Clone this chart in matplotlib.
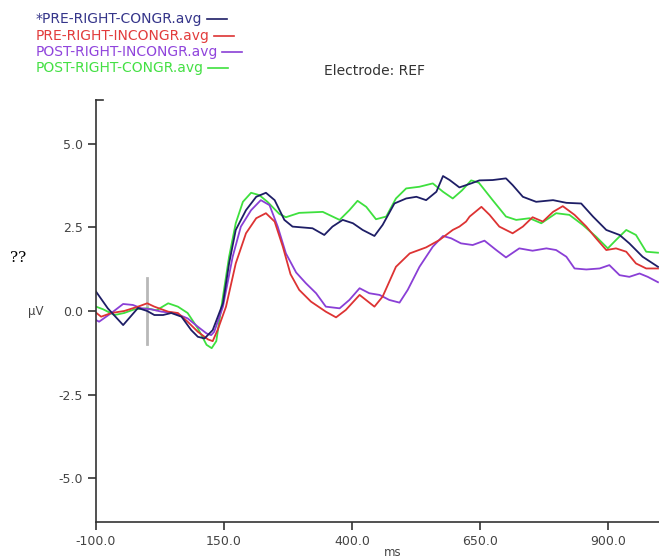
import matplotlib.pyplot as plt
from matplotlib.lines import Line2D

# ERP averages, electrode REF
names = ['*PRE-RIGHT-CONGR.avg', 'PRE-RIGHT-INCONGR.avg',
         'POST-RIGHT-INCONGR.avg', 'POST-RIGHT-CONGR.avg']
colors = ['#1e1e66', '#dd3333', '#8a3fd6', '#3ee03e']
text_colors = ['#35358a', '#e23c3c', '#9044dc', '#44e044']

pre_congr_t = [-100, -77, -47, -18, 0, 14, 31, 47, 67, 86, 99, 112, 128, 148, 160,
               173, 193, 213, 232, 249, 268, 284, 323, 346, 362, 382, 402, 421,
               444, 460, 483, 506, 526, 545, 565, 578, 591, 610, 633, 649, 675,
               701, 714, 734, 760, 793, 819, 848, 871, 897, 923, 942, 968, 998]
pre_congr_v = [0.58, 0.08, -0.42, 0.09, 0.0, -0.12, -0.12, -0.06, -0.17, -0.57,
               -0.77, -0.82, -0.57, 0.23, 1.42, 2.42, 3.01, 3.41, 3.53, 3.31,
               2.72, 2.52, 2.47, 2.27, 2.52, 2.72, 2.62, 2.42, 2.24, 2.57, 3.21,
               3.36, 3.41, 3.31, 3.56, 4.03, 3.91, 3.69, 3.81, 3.90, 3.91, 3.96,
               3.76, 3.41, 3.26, 3.31, 3.23, 3.21, 2.82, 2.42, 2.27, 2.02, 1.62,
               1.32]

pre_incongr_t = [-100, -90, -70, -45, -18, 0, 14, 41, 60, 79, 99, 119, 128, 138,
                 154, 173, 193, 213, 232, 249, 265, 280, 297, 320, 349, 369, 388,
                 415, 444, 460, 486, 513, 545, 571, 597, 610, 623, 630, 653, 669,
                 688, 714, 734, 753, 773, 793, 812, 835, 858, 877, 897, 916, 936,
                 955, 975, 998]
pre_incongr_v = [-0.05, -0.17, -0.06, 0.0, 0.13, 0.23, 0.13, -0.02, -0.06, -0.32,
                 -0.62, -0.85, -0.9, -0.55, 0.13, 1.42, 2.32, 2.77, 2.92, 2.67,
                 1.92, 1.1, 0.63, 0.28, -0.02, -0.19, 0.03, 0.48, 0.13, 0.43,
                 1.32, 1.72, 1.90, 2.12, 2.42, 2.52, 2.67, 2.82, 3.11, 2.87, 2.52,
                 2.32, 2.52, 2.80, 2.67, 2.96, 3.13, 2.87, 2.52, 2.17, 1.82, 1.87,
                 1.77, 1.42, 1.27, 1.27]

post_incongr_t = [-100, -94, -70, -47, -28, -11, 8, 28, 53, 79, 99, 116, 125, 131,
                  148, 167, 183, 203, 222, 239, 255, 271, 291, 310, 330, 349, 376,
                  395, 415, 434, 454, 473, 493, 509, 532, 558, 578, 594, 613, 636,
                  659, 682, 701, 727, 753, 780, 799, 819, 835, 858, 884, 903, 923,
                  942, 962, 978, 998]
post_incongr_v = [-0.27, -0.32, -0.06, 0.21, 0.18, 0.08, 0.05, -0.02, -0.06, -0.22,
                  -0.47, -0.67, -0.72, -0.62, 0.13, 1.62, 2.52, 3.01, 3.31, 3.16,
                  2.52, 1.72, 1.15, 0.83, 0.53, 0.13, 0.08, 0.33, 0.68, 0.53, 0.48,
                  0.33, 0.25, 0.63, 1.32, 1.92, 2.24, 2.17, 2.02, 1.97, 2.10, 1.82,
                  1.60, 1.87, 1.80, 1.87, 1.82, 1.62, 1.27, 1.24, 1.27, 1.37, 1.07,
                  1.02, 1.12, 1.02, 0.86]

post_congr_t = [-100, -86, -64, -45, -25, 0, 18, 41, 60, 79, 99, 116, 126, 135,
                148, 160, 173, 187, 203, 219, 235, 258, 271, 297, 343, 376, 395,
                411, 428, 447, 467, 486, 506, 532, 558, 578, 597, 615, 633, 648,
                675, 701, 721, 747, 770, 799, 825, 851, 877, 900, 916, 936, 955,
                975, 998]
post_congr_v = [0.13, 0.05, -0.12, -0.06, 0.05, 0.08, 0.02, 0.23, 0.13, -0.06,
                -0.52, -1.01, -1.11, -0.9, 0.43, 1.62, 2.62, 3.26, 3.53, 3.46,
                3.26, 2.9, 2.8, 2.93, 2.96, 2.72, 3.01, 3.29, 3.11, 2.74, 2.82,
                3.36, 3.66, 3.71, 3.81, 3.56, 3.36, 3.6, 3.9, 3.83, 3.31, 2.82,
                2.72, 2.77, 2.62, 2.92, 2.87, 2.57, 2.22, 1.87, 2.12, 2.42, 2.27,
                1.77, 1.74]

x_ticks = [-100, 150, 400, 650, 900]
y_ticks = [-5.0, -2.5, 0.0, 2.5, 5.0]

series_t = [pre_congr_t, pre_incongr_t, post_incongr_t, post_congr_t]
series_v = [pre_congr_v, pre_incongr_v, post_incongr_v, post_congr_v]

fig = plt.figure(figsize=(6.59, 5.59), dpi=100)
ax = fig.add_axes([0.1457, 0.0662, 0.8543, 0.7549])

# stimulus onset marker
ax.plot([0, 0], [-1.0, 1.0], color='#b8b8b8', lw=2, zorder=1)

# draw green first so navy sits on top like in the reference
for i in [3, 2, 1, 0]:
    ax.plot(series_t[i], series_v[i], color=colors[i], lw=1.3, zorder=2)

ax.set_xlim(-100, 1000)
ax.set_ylim(-6.3, 6.3)
ax.set_xticks(x_ticks)
ax.set_xticklabels(['%.1f' % t for t in x_ticks])
ax.set_yticks(y_ticks)
ax.set_yticklabels(['%.1f' % v for v in y_ticks])
ax.spines['top'].set_visible(False)
ax.spines['right'].set_visible(False)
for s in ['left', 'bottom']:
    ax.spines[s].set_color('#333333')
    ax.spines[s].set_linewidth(1.2)
ax.tick_params(direction='out', length=6, width=1.2, color='#333333',
               labelsize=9, labelcolor='#444444')
# small cap at the top of the y axis
ax.add_line(Line2D([0, 0.012], [1, 1], transform=ax.transAxes,
                   color='#333333', lw=1.2, clip_on=False))

fig.text(393 / 659, 1 - 552 / 559, 'ms', fontsize=8.5, color='#444444',
         ha='center', va='center')
fig.text(36 / 659, 1 - 311 / 559, 'µV', fontsize=8.5, color='#444444',
         ha='center', va='center')
fig.text(18 / 659, 1 - 258 / 559, '??', fontsize=11, family='DejaVu Serif',
         ha='center', va='center')
fig.text(374 / 659, 1 - 71 / 559, 'Electrode: REF', fontsize=10,
         color='#333333', ha='center', va='center')

# legend: coloured names with a short line after each
leg_y = [19, 36, 52, 68]
fig.canvas.draw()
r = fig.canvas.get_renderer()
for name, c, tc, y in zip(names, colors, text_colors, leg_y):
    txt = fig.text(36 / 659, 1 - y / 559, name, fontsize=10, color=tc,
                   ha='left', va='center')
    bb = txt.get_window_extent(renderer=r)
    x0 = (bb.x1 + 4) / 659
    fig.add_artist(Line2D([x0, x0 + 20 / 659], [1 - y / 559, 1 - y / 559],
                          color=c, lw=1.2))

plt.savefig('out.png', dpi=100)
